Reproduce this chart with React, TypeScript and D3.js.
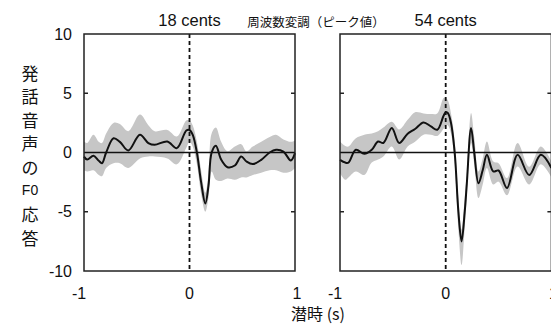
import * as d3 from "d3";
import React, { useRef, useEffect } from "react";

const W = 551,
  H = 326;

// 18 cents panel
const leftT = [-1, -0.97, -0.91, -0.86, -0.83, -0.79, -0.72, -0.66, -0.58, -0.47, -0.39, -0.33, -0.21, -0.12, -0.03, 0, 0.03, 0.07, 0.11, 0.15, 0.18, 0.21, 0.25, 0.3, 0.36, 0.43, 0.49, 0.54, 0.6, 0.68, 0.76, 0.82, 0.89, 0.96, 1];
const leftMean = [-0.35, -0.6, -0.28, -0.7, -0.9, 0, 1.2, 0.9, 0.17, 1.5, 0.8, 0.65, 0.93, 0.37, 1.86, 1.9, 1.5, 0, -2.5, -4.3, -2.8, 0, 0.57, -0.6, -1.24, -1.1, -0.34, -0.76, -0.98, -0.62, 0, 0.23, 0.08, -0.67, -0.05];
const leftLo = [-1.5, -1.6, -1.5, -1.9, -2.0, -1.3, -0.9, -0.9, -1.3, -0.5, -0.34, -0.34, -0.5, -1.0, 0.4, 0.9, 0.5, -1.0, -3.5, -5.0, -3.8, -1.6, -2.3, -2.4, -2.2, -2.3, -2.1, -2.1, -1.9, -1.7, -1.5, -1.5, -1.7, -1.6, -1.3];
const leftHi = [0.9, 0.8, 1.5, 0.9, 0.8, 1.6, 2.5, 2.4, 1.8, 3.2, 2.3, 1.8, 1.9, 1.35, 2.7, 2.7, 2.3, 0.9, -1.5, -3.4, -1.8, 1.6, 2.1, 0.9, 0.1, 0.5, 0.7, 0.1, 0.5, 0.9, 1.3, 1.5, 1.1, 0.9, 1.0];

// 54 cents panel
const rightT = [-1, -0.95, -0.92, -0.85, -0.77, -0.7, -0.64, -0.59, -0.51, -0.44, -0.36, -0.29, -0.21, -0.14, -0.08, -0.02, 0, 0.02, 0.05, 0.085, 0.12, 0.15, 0.18, 0.2, 0.24, 0.27, 0.31, 0.35, 0.39, 0.45, 0.5, 0.58, 0.68, 0.79, 0.9, 1];
const rightMean = [-0.62, -0.85, -0.85, 0.23, -0.11, 0.23, 0.93, 0.8, 2.06, 0.8, 1.58, 1.98, 2.54, 2.2, 1.92, 3.1, 3.38, 3.33, 2.5, 0, -5.0, -7.5, -5.0, -2.6, 2.06, 0, -2.6, -1.5, -0.2, -1.6, -1.52, -3.0, -0.2, -1.9, -0.2, -1.3];
const rightLo = [-1.75, -2.3, -2.1, -1.6, -1.9, -0.85, -0.6, -0.34, 0.5, -0.6, 0.5, 0.9, 1.5, 1.5, 1.4, 2.0, 2.3, 2.3, 1.6, -1.0, -6.5, -9.5, -6.3, -3.6, 0.8, -1.0, -3.85, -2.7, -1.3, -2.7, -2.46, -3.6, -1.18, -2.7, -1.0, -2.1];
const rightHi = [0.93, 0.55, 0.5, 1.2, 1.5, 1.6, 1.8, 2.1, 2.6, 1.95, 2.76, 3.4, 3.3, 3.25, 3.3, 4.6, 4.6, 4.4, 3.3, 1.0, -3.8, -6.5, -3.8, -1.6, 3.33, 1.3, -1.6, -0.5, 0.93, -0.76, -0.9, -2.16, 0.8, -1.2, 0.5, -0.76];

const panels = [
  { title: "18 cents", t: leftT, mean: leftMean, lo: leftLo, hi: leftHi, x0: 84, x1: 295 },
  { title: "54 cents", t: rightT, mean: rightMean, lo: rightLo, hi: rightHi, x0: 340, x1: 551.4 },
];

const yTicks = [10, 5, 0, -5, -10];
const xTicks = [-1, 0, 1];
const yLabelChars = ["発", "話", "音", "声", "の", "F0", "応", "答"];
const centerTitle = "周波数変調（ピーク値）";
const xLabel = "潜時 (s)";

const numFont = "'Liberation Sans', Arial, sans-serif";
const jpFont = "'Noto Sans CJK JP', sans-serif";

function App() {
  const ref = useRef<SVGSVGElement>(null);

  useEffect(() => {
    const svg = d3.select(ref.current);
    svg.selectAll("*").remove();

    var y = d3.scaleLinear().domain([-10, 10]).range([271, 34]);

    panels.forEach((p, pi) => {
      var x = d3.scaleLinear().domain([-1, 1]).range([p.x0, p.x1]);
      const g = svg.append("g");

      // confidence band
      const area = d3
        .area<number>()
        .x((d, i) => x(p.t[i]))
        .y0((d, i) => y(p.lo[i]))
        .y1((d, i) => y(p.hi[i]))
        .curve(d3.curveCatmullRom);
      g.append("path").datum(p.t).attr("d", area).attr("fill", "#c6c6c6");

      // zero line
      g.append("line")
        .attr("x1", x(-1))
        .attr("x2", x(1))
        .attr("y1", y(0))
        .attr("y2", y(0))
        .attr("stroke", "#111")
        .attr("stroke-width", 1.5);

      // onset
      g.append("line")
        .attr("x1", x(0))
        .attr("x2", x(0))
        .attr("y1", y(10))
        .attr("y2", y(-10))
        .attr("stroke", "#111")
        .attr("stroke-width", 1.8)
        .attr("stroke-dasharray", "4,3");

      // mean response
      const line = d3
        .line<number>()
        .x((d, i) => x(p.t[i]))
        .y((d) => y(d))
        .curve(d3.curveCatmullRom);
      g.append("path")
        .datum(p.mean)
        .attr("d", line)
        .attr("fill", "none")
        .attr("stroke", "#111")
        .attr("stroke-width", 2);

      // box
      g.append("rect")
        .attr("x", x(-1))
        .attr("y", y(10))
        .attr("width", x(1) - x(-1))
        .attr("height", y(-10) - y(10))
        .attr("fill", "none")
        .attr("stroke", "#222")
        .attr("stroke-width", 1.5);

      // inward ticks
      [5, -5].forEach((v) => {
        g.append("line")
          .attr("x1", x(-1))
          .attr("x2", x(-1) + 4)
          .attr("y1", y(v))
          .attr("y2", y(v))
          .attr("stroke", "#222")
          .attr("stroke-width", 1.5);
        g.append("line")
          .attr("x1", x(1))
          .attr("x2", x(1) - 4)
          .attr("y1", y(v))
          .attr("y2", y(v))
          .attr("stroke", "#222")
          .attr("stroke-width", 1.5);
      });

      // x tick labels
      g.selectAll("text.xt")
        .data(xTicks)
        .enter()
        .append("text")
        .attr("x", (d) => x(d) + (d < 0 ? -5 : d > 0 ? 2 : 0))
        .attr("y", 293)
        .attr("text-anchor", "middle")
        .attr("dominant-baseline", "central")
        .style("font-family", numFont)
        .style("font-size", "16px")
        .attr("fill", "#111")
        .text((d) => d);

      // panel title
      g.append("text")
        .attr("x", x(0))
        .attr("y", 20)
        .attr("text-anchor", "middle")
        .attr("dominant-baseline", "central")
        .style("font-family", numFont)
        .style("font-size", "16.5px")
        .attr("fill", "#111")
        .text(p.title);

      // y tick labels on left panel only
      if (pi === 0) {
        g.selectAll("text.yt")
          .data(yTicks)
          .enter()
          .append("text")
          .attr("x", 72)
          .attr("y", (d) => y(d))
          .attr("text-anchor", "end")
          .attr("dominant-baseline", "central")
          .style("font-family", numFont)
          .style("font-size", "16px")
          .attr("fill", "#111")
          .text((d) => d);
      }
    });

    svg
      .append("text")
      .attr("x", 316)
      .attr("y", 21)
      .attr("text-anchor", "middle")
      .attr("dominant-baseline", "central")
      .style("font-family", jpFont)
      .style("font-size", "12.5px")
      .attr("fill", "#111")
      .text(centerTitle);

    // vertical y label
    svg
      .selectAll("text.yl")
      .data(yLabelChars)
      .enter()
      .append("text")
      .attr("x", 30)
      .attr("y", (d, i) => 72 + i * 23.6)
      .attr("text-anchor", "middle")
      .attr("dominant-baseline", "central")
      .style("font-family", (d) => (d === "F0" ? numFont : jpFont))
      .style("font-size", (d) => (d === "F0" ? "14px" : "17px"))
      .attr("fill", "#111")
      .text((d) => d);

    svg
      .append("text")
      .attr("x", 318)
      .attr("y", 313)
      .attr("text-anchor", "middle")
      .attr("dominant-baseline", "central")
      .style("font-family", jpFont)
      .style("font-size", "16px")
      .attr("fill", "#111")
      .text(xLabel);
  }, []);

  return (
    <svg
      ref={ref}
      width={W}
      height={H}
      style={{ position: "absolute", left: 0, top: 0, background: "#fff" }}
    ></svg>
  );
}

export default App;
